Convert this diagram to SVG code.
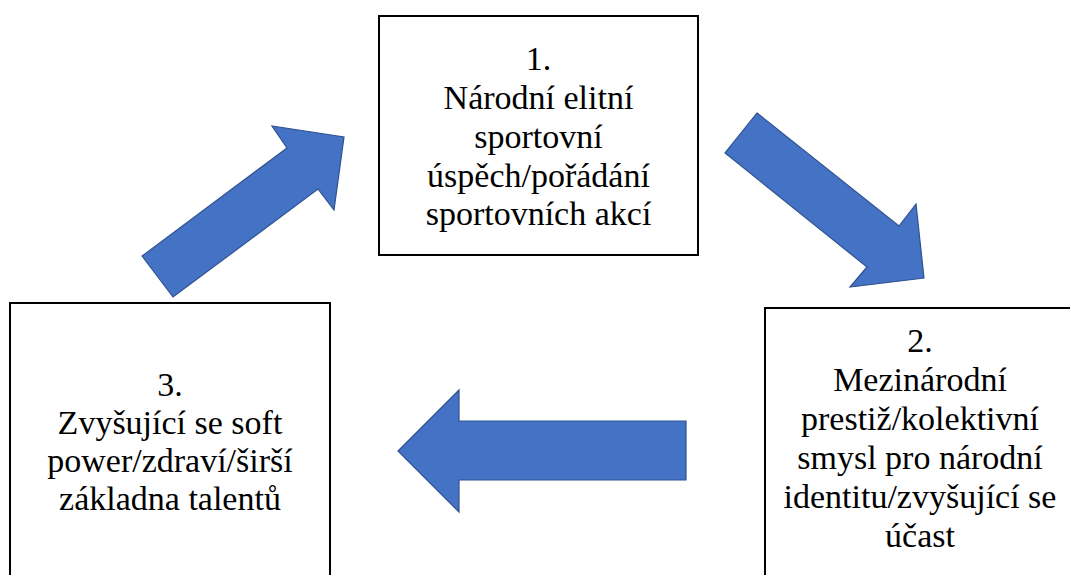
<svg xmlns="http://www.w3.org/2000/svg" width="1070" height="575" viewBox="0 0 1070 575">
<style>
.box{fill:#fff;stroke:#000;stroke-width:2}
.t{font-family:"Liberation Serif","Times New Roman",serif;font-size:34px;fill:#000;text-anchor:middle}
.arr{fill:#4472C4;stroke:#2F528F;stroke-width:1.2;stroke-linejoin:miter}
</style>
<rect width="1070" height="575" fill="#fff"/>
<g id="connectors">
<polygon class="arr" points="142,256 173,297 318,189 334,210 344,137 272,126 287,148"/>
<polygon class="arr" points="757,113 899,226 916,204 924,278 850,287 867,267 725,153"/>
<polygon class="arr" points="398,451 459,390 459,421 686,421 686,480 459,480 459,512"/>
</g>
<g id="node1">
<rect class="box" x="379" y="16" width="319" height="239"/>
<text class="t" x="538.5"><tspan x="538.5" y="70">1.</tspan><tspan x="538.5" y="109">Národní elitní</tspan><tspan x="538.5" y="148">sportovní</tspan><tspan x="538.5" y="187">úspěch/pořádání</tspan><tspan x="538.5" y="225">sportovních akcí</tspan></text>
</g>
<g id="node2">
<rect class="box" x="765" y="308" width="320" height="280"/>
<text class="t"><tspan x="920" y="352">2.</tspan><tspan x="920" y="391">Mezinárodní</tspan><tspan x="920" y="430">prestiž/kolektivní</tspan><tspan x="920" y="469">smysl pro národní</tspan><tspan x="920" y="508">identitu/zvyšující se</tspan><tspan x="920" y="547">účast</tspan></text>
</g>
<g id="node3">
<rect class="box" x="10" y="303" width="320" height="290"/>
<text class="t"><tspan x="170" y="396">3.</tspan><tspan x="170" y="434">Zvyšující se soft</tspan><tspan x="170" y="472">power/zdraví/širší</tspan><tspan x="170" y="510">základna talentů</tspan></text>
</g>
</svg>
